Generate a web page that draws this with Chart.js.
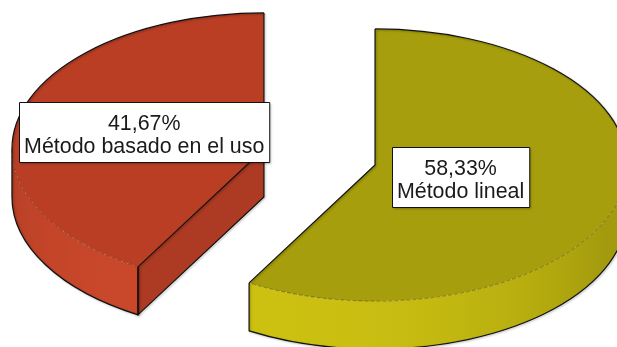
<!DOCTYPE html>
<html>
<head>
<meta charset="utf-8">
<script src="https://cdn.jsdelivr.net/npm/chart.js@4.4.1/dist/chart.umd.min.js"></script>
<style>
  html, body { margin: 0; padding: 0; background: #fff; }
  #wrap { width: 617px; height: 347px; }
</style>
</head>
<body>
<div id="wrap"><canvas id="pieChart"></canvas></div>
<script>
// Share of each depreciation method (%)
const methods = ['Método lineal', 'Método basado en el uso'];
const shares = [58.33, 41.67];

// Slice colours: top face, radial cut face, brightest wall tone
const topColors = ['#a69e0c', '#b93e24'];
const faceColors = ['#978f0a', '#ad3a22'];
const wallColors = [[204, 193, 17], [202, 71, 42]];

function ellPt(s, a, dy) {
  return [s.cx + s.rx * Math.cos(a), s.cy + s.ry * Math.sin(a) + (dy || 0)];
}

function shade(rgb, f) {
  return 'rgb(' + rgb.map(v => Math.round(Math.min(255, v * f))).join(',') + ')';
}

function drawSlice(ctx, s, depth, opts) {
  const P = ellPt(s, s.a0);
  const Q = ellPt(s, s.a1);
  ctx.lineJoin = 'round';

  // radial cut face at the start angle, shown when it faces the viewer
  if (Math.cos(s.a0) < -0.01) {
    ctx.beginPath();
    ctx.moveTo(s.cx, s.cy);
    ctx.lineTo(P[0], P[1]);
    ctx.lineTo(P[0], P[1] + depth);
    ctx.lineTo(s.cx, s.cy + depth);
    ctx.closePath();
    ctx.fillStyle = faceColors[s.i];
    ctx.fill();
  }
  // radial cut face at the end angle
  if (Math.cos(s.a1) > 0.01) {
    ctx.beginPath();
    ctx.moveTo(s.cx, s.cy);
    ctx.lineTo(Q[0], Q[1]);
    ctx.lineTo(Q[0], Q[1] + depth);
    ctx.lineTo(s.cx, s.cy + depth);
    ctx.closePath();
    ctx.fillStyle = faceColors[s.i];
    ctx.fill();
  }

  // outer wall: the front half of the rim (0..PI) that lies in the slice
  const TAU = Math.PI * 2;
  let w0 = null, w1 = null;
  for (let base = -TAU; base <= TAU; base += TAU) {
    const lo = Math.max(s.a0, base), hi = Math.min(s.a1, base + Math.PI);
    if (hi > lo) { w0 = lo; w1 = hi; }
  }
  if (w0 !== null) {
    const x0 = s.cx + s.rx * Math.cos(w1), x1 = s.cx + s.rx * Math.cos(w0);
    const grad = ctx.createLinearGradient(x0, 0, x1, 0);
    const n = 24;
    for (let j = 0; j <= n; j++) {
      const a = w1 - (w1 - w0) * j / n;
      const x = s.cx + s.rx * Math.cos(a);
      const t = Math.min(1, Math.max(0, (x - x0) / ((x1 - x0) || 1)));
      const f = 0.8 + 0.2 * Math.max(0, Math.cos(a - opts.lightAngle));
      grad.addColorStop(t, shade(wallColors[s.i], f));
    }
    ctx.beginPath();
    ctx.ellipse(s.cx, s.cy, s.rx, s.ry, 0, w0, w1);
    ctx.ellipse(s.cx, s.cy + depth, s.rx, s.ry, 0, w1, w0, true);
    ctx.closePath();
    ctx.fillStyle = grad;
    ctx.fill();
  }

  // top face
  ctx.beginPath();
  ctx.moveTo(s.cx, s.cy);
  ctx.ellipse(s.cx, s.cy, s.rx, s.ry, 0, s.a0, s.a1);
  ctx.closePath();
  ctx.fillStyle = topColors[s.i];
  ctx.fill();

  // outlines
  ctx.save();
  ctx.shadowColor = 'rgba(0,0,0,0.3)';
  ctx.shadowBlur = 2;
  ctx.shadowOffsetX = 1;
  ctx.shadowOffsetY = 1;
  ctx.strokeStyle = '#111';
  ctx.lineWidth = 1.2;

  if (w0 !== null) {
    // soft seam between top face and wall
    ctx.save();
    ctx.shadowColor = 'transparent';
    ctx.strokeStyle = 'rgba(40,20,0,0.45)';
    ctx.lineWidth = 0.8;
    ctx.setLineDash([4, 2]);
    ctx.beginPath();
    ctx.ellipse(s.cx, s.cy, s.rx, s.ry, 0, w0, w1);
    ctx.stroke();
    ctx.restore();

    const A = ellPt(s, w0), B = ellPt(s, w1);
    ctx.beginPath();
    ctx.moveTo(A[0], A[1]);
    ctx.lineTo(A[0], A[1] + depth);
    ctx.ellipse(s.cx, s.cy + depth, s.rx, s.ry, 0, w0, w1);
    ctx.lineTo(B[0], B[1]);
    ctx.stroke();
  }

  // back rim and radii of the top face
  ctx.beginPath();
  ctx.moveTo(Q[0], Q[1]);
  ctx.lineTo(s.cx, s.cy);
  ctx.lineTo(P[0], P[1]);
  ctx.stroke();
  for (let base = -TAU; base <= TAU; base += TAU) {
    const lo = Math.max(s.a0, base + Math.PI), hi = Math.min(s.a1, base + TAU);
    if (hi > lo) {
      ctx.beginPath();
      ctx.ellipse(s.cx, s.cy, s.rx, s.ry, 0, lo, hi);
      ctx.stroke();
    }
  }

  // edges of the visible cut face
  if (Math.cos(s.a0) < -0.01) {
    ctx.beginPath();
    ctx.moveTo(s.cx, s.cy);
    ctx.lineTo(s.cx, s.cy + depth);
    ctx.lineTo(P[0], P[1] + depth);
    ctx.lineTo(P[0], P[1]);
    ctx.stroke();
  }
  if (Math.cos(s.a1) > 0.01) {
    ctx.beginPath();
    ctx.moveTo(s.cx, s.cy);
    ctx.lineTo(s.cx, s.cy + depth);
    ctx.lineTo(Q[0], Q[1] + depth);
    ctx.lineTo(Q[0], Q[1]);
    ctx.stroke();
  }
  ctx.restore();
}

function drawLabel(ctx, s, opts) {
  // label sits on the centroid of the top face
  const half = (s.a1 - s.a0) / 2;
  const dist = (2 / 3) * s.rx * Math.sin(half) / half;
  const x = s.cx + Math.cos(s.mid) * dist;
  const y = s.cy + Math.sin(s.mid) * dist * opts.tilt;
  const lines = [shares[s.i].toFixed(2).replace('.', ',') + '%', methods[s.i]];

  ctx.save();
  ctx.font = opts.font;
  const w = Math.max(...lines.map(t => ctx.measureText(t).width)) + 10;
  const h = 60;
  const bx = Math.round(x - w / 2) + 0.5, by = Math.round(y - h / 2) + 0.5;
  ctx.shadowColor = 'rgba(0,0,0,0.25)';
  ctx.shadowBlur = 2;
  ctx.shadowOffsetX = 1;
  ctx.shadowOffsetY = 1;
  ctx.fillStyle = '#fff';
  ctx.fillRect(bx, by, w, h);
  ctx.shadowColor = 'transparent';
  ctx.strokeStyle = '#111';
  ctx.lineWidth = 1;
  ctx.strokeRect(bx, by, w, h);
  ctx.fillStyle = '#1a1a1a';
  ctx.textAlign = 'center';
  ctx.textBaseline = 'alphabetic';
  ctx.fillText(lines[0], x, by + 27);
  ctx.fillText(lines[1], x, by + 50);
  ctx.restore();
}

// Draws the pie as an exploded, tilted 3D pie using the arcs laid out by Chart.js
const pie3d = {
  id: 'pie3d',
  beforeDatasetsDraw(chart, args, opts) {
    const ctx = chart.ctx;
    const arcs = chart.getDatasetMeta(0).data;
    const slices = arcs.map((arc, i) => {
      const mid = (arc.startAngle + arc.endAngle) / 2;
      const off = arc.options.offset || 0;
      return {
        i, mid,
        a0: arc.startAngle,
        a1: arc.endAngle,
        cx: arc.x + Math.cos(mid) * off,
        cy: arc.y + Math.sin(mid) * off * opts.tilt,
        rx: arc.outerRadius,
        ry: arc.outerRadius * opts.tilt
      };
    }).sort((p, q) => p.cy - q.cy);

    slices.forEach(s => drawSlice(ctx, s, opts.depth, opts));
    slices.forEach(s => drawLabel(ctx, s, opts));
    return false;
  }
};

new Chart(document.getElementById('pieChart'), {
  type: 'pie',
  data: {
    labels: methods,
    datasets: [{
      data: shares,
      backgroundColor: topColors,
      offset: 57.5,
      radius: 252
    }]
  },
  options: {
    responsive: true,
    maintainAspectRatio: false,
    animation: false,
    layout: { padding: { left: 22, right: 0, top: 0, bottom: 33 } },
    plugins: {
      legend: { display: false },
      tooltip: { enabled: false },
      pie3d: {
        tilt: 0.54,
        depth: 48,
        lightAngle: 115 * Math.PI / 180,
        font: '21.4px "Liberation Sans", Arial, sans-serif'
      }
    }
  },
  plugins: [pie3d]
});
</script>
</body>
</html>
